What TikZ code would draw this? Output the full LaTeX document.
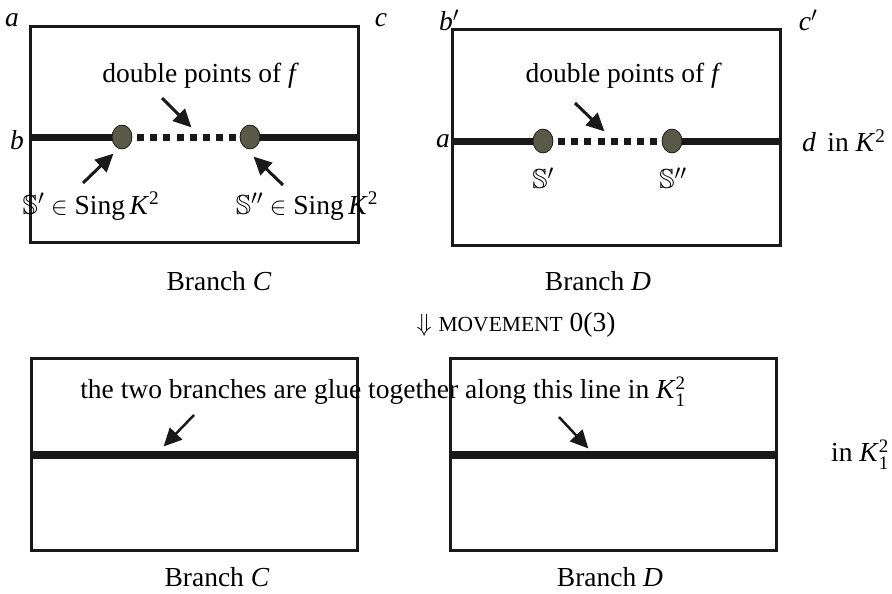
\documentclass[tikz,border=0pt]{standalone}
\usepackage{amssymb}
\usepackage{fontspec}
\setmainfont{Liberation Serif}
\usetikzlibrary{arrows.meta,shapes.geometric}
\newcommand{\Kt}{\textit{K}\textsuperscript{2}}
\newcommand{\Kot}{\textit{K}$^{\mbox{\fontsize{19}{20}\selectfont 2}}_{\mbox{\fontsize{19}{20}\selectfont 1}}$}
\tikzset{
  frame/.style={draw=black!90, line width=3pt, minimum width=#1, inner sep=0pt},
  thick line/.style={line width=7pt, black!90},
  dotline/.style={line width=7pt, black!90, dash pattern=on 7pt off 6.2pt},
  sdot/.style={ellipse, draw=black, line width=0.6pt, fill=dotc, minimum width=20pt, minimum height=24pt, inner sep=0pt},
  ptr/.style={line width=3pt, black!90, -{Triangle[length=18pt,width=17pt]}, shorten >=-2pt},
  lbl/.style={inner sep=0pt, font=\fontsize{27.5}{33}\selectfont},
}
\definecolor{dotc}{HTML}{595948}
\begin{document}
\begin{tikzpicture}[x=1pt,y=-1pt]
\useasboundingbox (0,0) rectangle (892,594);
% ---- top left box (Branch C)
\node[frame=328pt, minimum height=215pt] (tl) at (194,134.5) {};
\coordinate (tlL) at (30,137); \coordinate (tlR) at (358,137);
\node[sdot] (s1) at (122,137) {};
\node[sdot] (s2) at (250,137) {};
\draw[thick line] (tlL) -- (s1.west);
\draw[thick line] (s2.east) -- (tlR);
\draw[dotline] (137,137) -- (238,137);
\node[lbl] (dp1) at (203,76) {double points of \textit{f}\,};
\coordinate (dp1s) at (162,98); \coordinate (dp1e) at (190,126);
\draw[ptr] (dp1s) -- (dp1e);
\node[lbl, anchor=base] (sl1) at (91,214) {$\mathbb{S}'\in$ Sing\,\Kt};
\node[lbl, anchor=base] (sl2) at (307,214) {$\mathbb{S}''\in$ Sing\,\Kt};
\coordinate (a1s) at (83,183); \coordinate (a1e) at (112,155);
\coordinate (a2s) at (283,185); \coordinate (a2e) at (255,158);
\draw[ptr] (a1s) -- (a1e);
\draw[ptr] (a2s) -- (a2e);
\node[lbl] (la) at (12,20) {\textit{a}};
\node[lbl] (lc) at (381,20) {\textit{c}};
\node[lbl] (lb) at (17,140) {\textit{b}};
\node[lbl] (bc1) at (219,281) {Branch \textit{C}};
% ---- top right box (Branch D)
\node[frame=328pt, minimum height=215pt] (tr) at (616,137.5) {};
\coordinate (trL) at (452,141); \coordinate (trR) at (780,141);
\node[sdot] (t1) at (543,141) {};
\node[sdot] (t2) at (672,141) {};
\draw[thick line] (trL) -- (t1.west);
\draw[thick line] (t2.east) -- (trR);
\draw[dotline] (558,141) -- (657,141);
\node[lbl] (dp2) at (626,76) {double points of \textit{f}\,};
\coordinate (dp2s) at (575,103); \coordinate (dp2e) at (603,130);
\draw[ptr] (dp2s) -- (dp2e);
\node[lbl] (ts1) at (543,178) {$\mathbb{S}'$};
\node[lbl] (ts2) at (673,178) {$\mathbb{S}''$};
\node[lbl] (lbp) at (449,20) {\textit{b}$'$};
\node[lbl] (lcp) at (808,20) {\textit{c}$'$};
\node[lbl] (la2) at (443,141) {\textit{a}};
\node[lbl, anchor=west] (ld) at (802,141) {\textit{d}\, in \Kt};
\node[lbl] (bd1) at (598,281) {Branch \textit{D}};
% ---- movement
\node[lbl] (mv) at (516,325) {$\Downarrow$ {\fontsize{21.5}{24}\selectfont MOVEMENT} 0(3)};
% ---- bottom boxes
\node[frame=326pt, minimum height=192pt] (bl) at (194,454) {};
\node[frame=326pt, minimum height=192pt] (br) at (613,454) {};
\coordinate (blL) at (31,455); \coordinate (blR) at (357,455);
\coordinate (brL) at (450,455); \coordinate (brR) at (776,455);
\draw[line width=8pt, black!90] (blL) -- (blR);
\draw[line width=8pt, black!90] (brL) -- (brR);
\node[lbl] (glue) at (383,392) {the two branches are glue together along this line in \Kot};
\coordinate (g1s) at (194,415); \coordinate (g1e) at (165,445);
\coordinate (g2s) at (559,417); \coordinate (g2e) at (587,447);
\draw[ptr, line width=2.5pt] (g1s) -- (g1e);
\draw[ptr, line width=2.5pt] (g2s) -- (g2e);
\node[lbl, anchor=west] (ink) at (831,455) {in \Kot};
\node[lbl] (bc2) at (217,577) {Branch \textit{C}};
\node[lbl] (bd2) at (610,577) {Branch \textit{D}};
\end{tikzpicture}
\end{document}
